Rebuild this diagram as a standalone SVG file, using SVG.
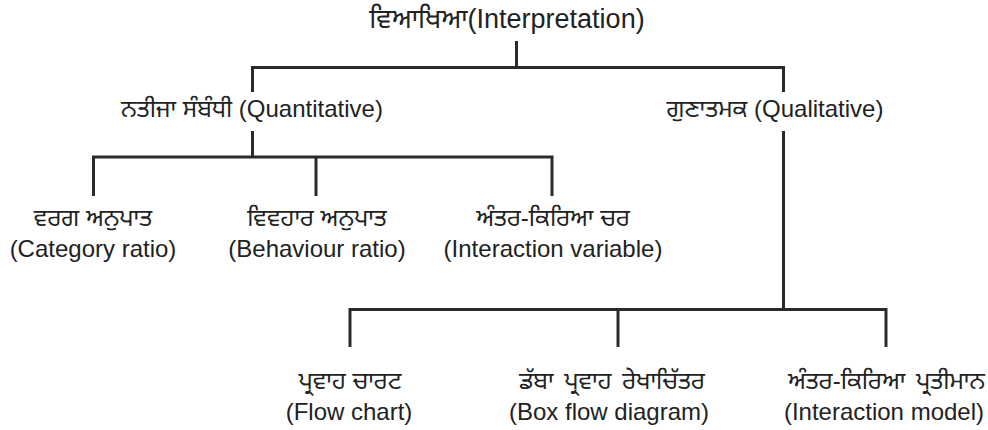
<svg xmlns="http://www.w3.org/2000/svg" width="988" height="430" viewBox="0 0 988 430">
<style>
text{font-family:"Liberation Sans","Noto Sans","Noto Sans Gurmukhi",sans-serif;fill:#222;text-anchor:middle;font-size:24px}
.t{font-size:27px}
.e{text-anchor:end}
.w{word-spacing:4px}
.c{stroke:#2a2a2a;stroke-width:3;fill:none}
</style>
<rect width="988" height="430" fill="#fff"/>
<g id="connectors">
<path class="c" d="M516.5 41V67.5M252.5 92V67.5H783.5V92"/>
<path class="c" d="M252.5 131V157M93.5 196V157H552V196M316 157V196"/>
<path class="c" d="M783.5 131V309.5M350 347V309.5H886V347M618 309.5V347"/>
</g>
<g id="root"><text class="t" x="507" y="28">ਵਿਆਖਿਆ(Interpretation)</text></g>
<g id="quant"><text x="252" y="117">ਨਤੀਜਾ ਸੰਬੰਧੀ (Quantitative)</text></g>
<g id="qual"><text x="775" y="117">ਗੁਣਾਤਮਕ (Qualitative)</text></g>
<g id="category"><text x="93" y="226">ਵਰਗ ਅਨੁਪਾਤ</text><text x="93" y="257">(Category ratio)</text></g>
<g id="behaviour"><text x="317" y="226">ਵਿਵਹਾਰ ਅਨੁਪਾਤ</text><text x="317" y="257">(Behaviour ratio)</text></g>
<g id="variable"><text x="553" y="226">ਅੰਤਰ-ਕਿਰਿਆ ਚਰ</text><text x="553" y="257">(Interaction variable)</text></g>
<g id="flowchart"><text x="350" y="389">ਪ੍ਰਵਾਹ ਚਾਰਟ</text><text x="349" y="420">(Flow chart)</text></g>
<g id="boxflow"><text class="w" x="612" y="389">ਡੱਬਾ ਪ੍ਰਵਾਹ ਰੇਖਾਚਿੱਤਰ</text><text x="609" y="420">(Box flow diagram)</text></g>
<g id="model"><text class="e w" x="985" y="389">ਅੰਤਰ-ਕਿਰਿਆ ਪ੍ਰਤੀਮਾਨ</text><text class="e" x="984" y="420">(Interaction model)</text></g>
</svg>
